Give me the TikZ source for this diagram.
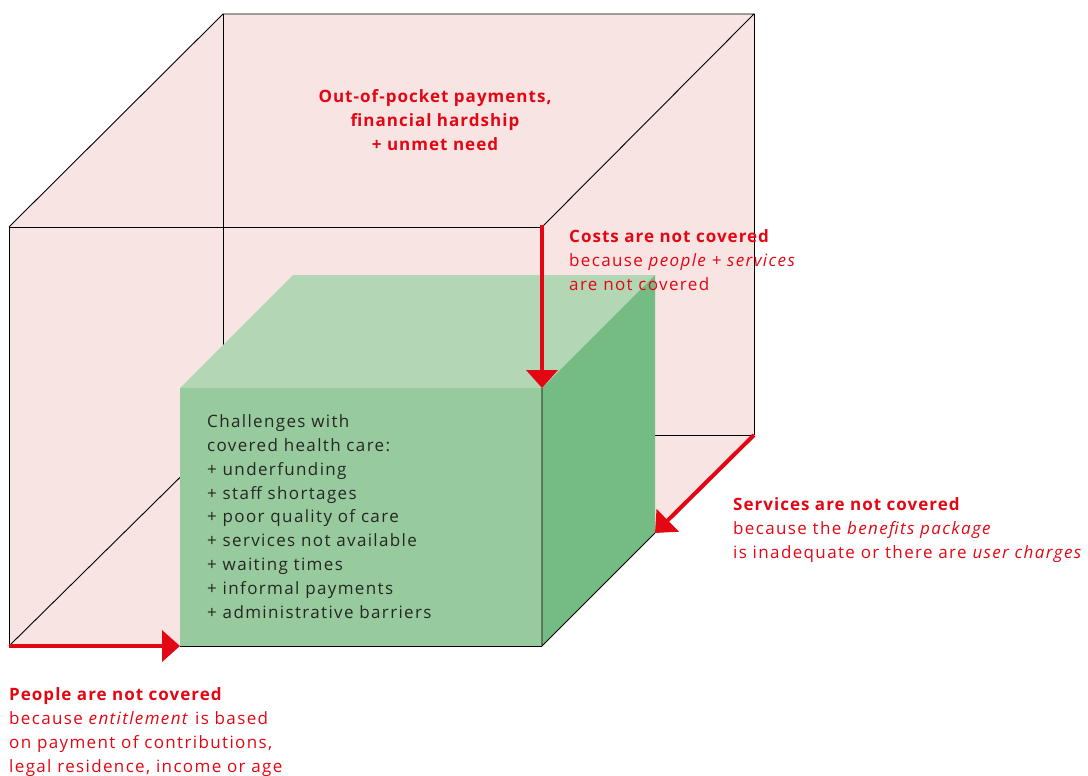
\documentclass[tikz,border=0pt]{standalone}
\usepackage{fontspec}
\setmainfont{Open Sans}[LetterSpace=8, BoldFeatures={LetterSpace=6}]
\usetikzlibrary{arrows.meta}
\definecolor{pinkf}{HTML}{F7E4E3}
\definecolor{gtop}{HTML}{B3D7B5}
\definecolor{gfront}{HTML}{97CA9C}
\definecolor{gright}{HTML}{74BC84}
\definecolor{wred}{HTML}{E30613}
\tikzset{
  edge/.style={draw=black, line width=0.9pt},
  redarrow/.style={draw=wred, line width=4pt, -{Triangle[width=31pt,length=18pt]}},
  redtext/.style={text=wred, font=\fontsize{17}{23.8}\selectfont, align=left, inner sep=0pt},
  gtext/.style={text=black!85, font=\fontsize{17}{23.8}\selectfont, align=left, inner sep=0pt},
}
\begin{document}
\begin{tikzpicture}[x=1pt,y=-1pt]
\useasboundingbox (0,0) rectangle (1088,776);
% outer cube corners
\coordinate (A) at (9,227);   % front top left
\coordinate (B) at (542,227); % front top right
\coordinate (C) at (542,646); % front bottom right
\coordinate (D) at (9,646);   % front bottom left
\coordinate (E) at (223,14);  % back top left
\coordinate (F) at (754,14);  % back top right
\coordinate (G) at (754,435); % back bottom right
\coordinate (H) at (223,435); % back bottom left
% inner cube corners
\coordinate (a) at (180,388);
\coordinate (b) at (542,388);
\coordinate (c) at (542,646);
\coordinate (d) at (180,646);
\coordinate (e) at (293,275);
\coordinate (f) at (655,275);
\coordinate (g) at (655,533);
% pink silhouette
\fill[pinkf] (A) -- (E) -- (F) -- (G) -- (C) -- (D) -- cycle;
% hidden/back edges
\draw[edge] (E) -- (H) -- (G);
\draw[edge] (H) -- (D);
% outer visible edges
\draw[edge] (D) -- (A) -- (B) -- (C);
\draw[edge] (A) -- (E) -- (F) -- (B);
\draw[edge] (F) -- (G);
% green cube
\fill[gtop] (a) -- (e) -- (f) -- (b) -- cycle;
\fill[gfront] (a) -- (b) -- (c) -- (d) -- cycle;
\fill[gright] (b) -- (f) -- (g) -- (c) -- cycle;
\draw[edge] (b) -- (c) -- (g);
\draw[edge] (d) -- (c);
% arrows
\draw[redarrow] ([yshift=2pt]B) -- (b);
\draw[redarrow] (G) -- (g);
\draw[redarrow] (D) -- (d);
% texts
\node[redtext, align=center, font=\fontsize{17}{23.8}\selectfont\bfseries, anchor=north] (oop) at (435,89.5)
  {Out-of-pocket payments,\\financial hardship\\+ unmet need};
\node[redtext, anchor=north west] (costs) at (569,229.5)
  {\textbf{Costs are not covered}\\because \textit{people + services}\\are not covered};
\node[redtext, anchor=north west] (serv) at (733,497.5)
  {\textbf{Services are not covered}\\because the \textit{benefits package}\\is inadequate or there are \textit{user charges}};
\node[redtext, anchor=north west] (people) at (9,687.5)
  {\textbf{People are not covered}\\because \textit{entitlement} is based\\on payment of contributions,\\legal residence, income or age};
\node[gtext, anchor=north west] (chal) at (207,414.5)
  {Challenges with\\covered health care:\\+ underfunding\\+ staff shortages\\+ poor quality of care\\+ services not available\\+ waiting times\\+ informal payments\\+ administrative barriers};
\end{tikzpicture}
\end{document}
